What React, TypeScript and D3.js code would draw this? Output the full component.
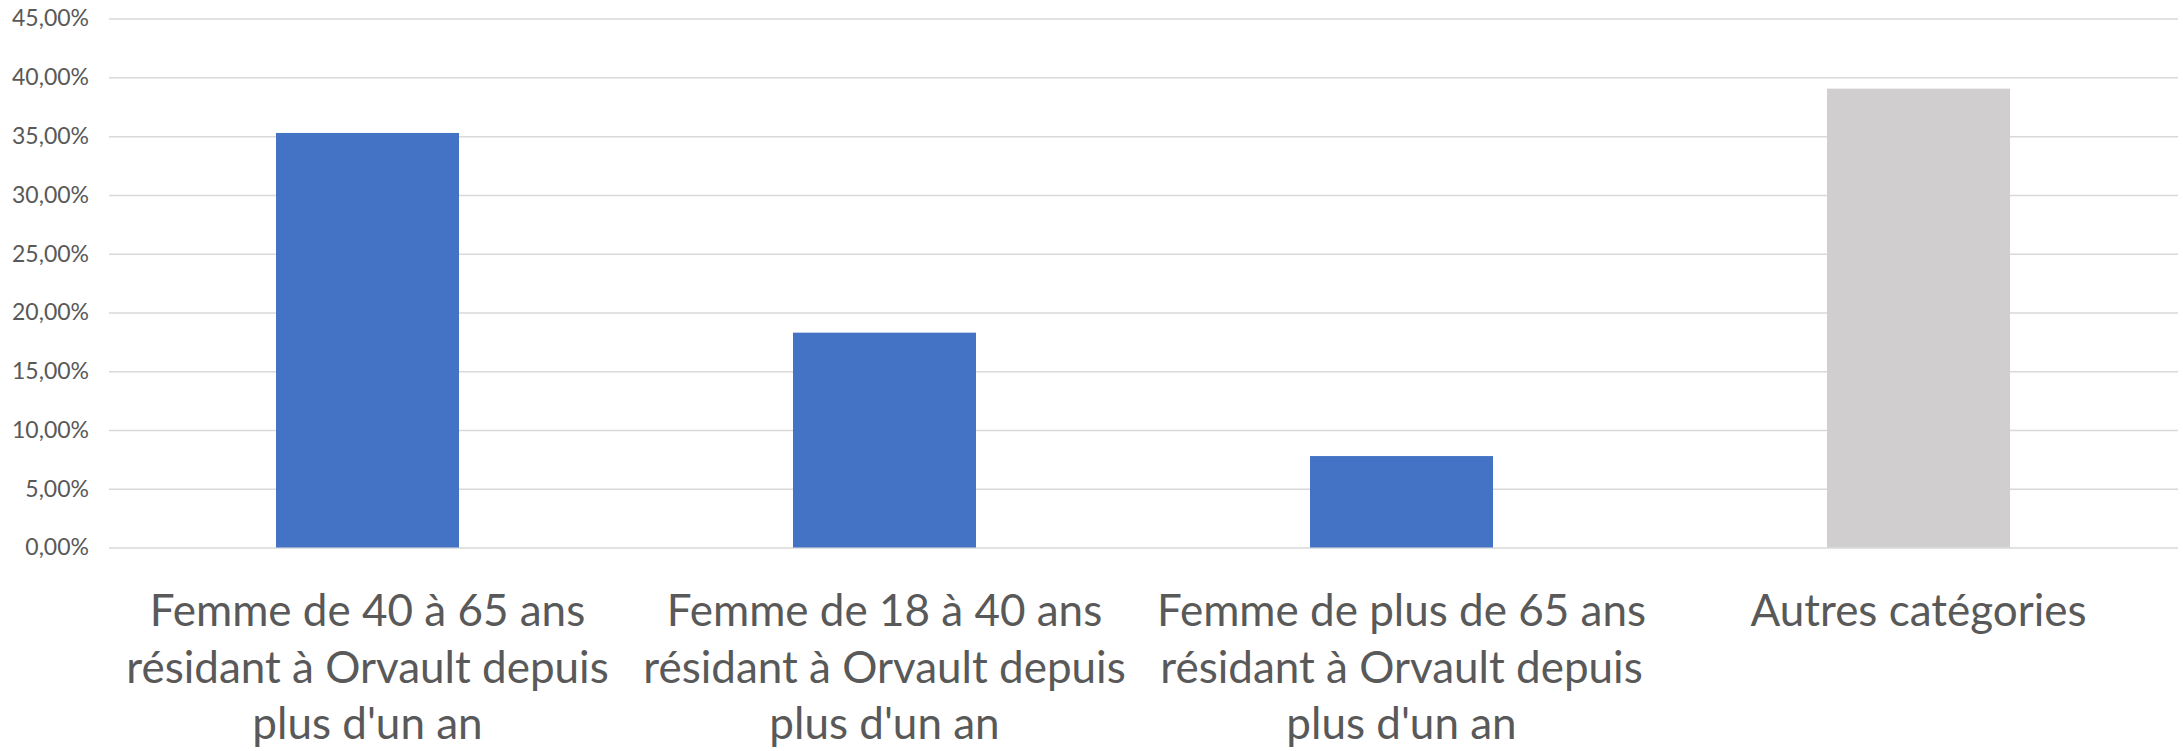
import React, { useRef, useEffect } from "react";
import { select, scaleBand, scaleLinear, axisLeft, formatLocale } from "d3";

const categories = [
  ["Femme de 40 à 65 ans", "résidant à Orvault depuis", "plus d'un an"],
  ["Femme de 18 à 40 ans", "résidant à Orvault depuis", "plus d'un an"],
  ["Femme de plus de 65 ans", "résidant à Orvault depuis", "plus d'un an"],
  ["Autres catégories"],
];
const values = [0.3527, 0.1828, 0.0778, 0.3904];
const barColors = ["#4472C4", "#4472C4", "#4472C4", "#D0CECE"];
const yTicks = [0, 0.05, 0.1, 0.15, 0.2, 0.25, 0.3, 0.35, 0.4, 0.45];

const width = 2183;
const height = 751;
const FONT = "Lato, 'Open Sans', sans-serif";

function App() {
  const svgRef = useRef(null);

  useEffect(() => {
    const svg = select(svgRef.current);
    svg.selectAll("*").remove();

    const fr = formatLocale({
      decimal: ",",
      thousands: " ",
      grouping: [3],
      currency: ["", " €"],
    });

    const xScale = scaleBand()
      .domain(categories.map((c, i) => String(i)))
      .range([109, 2177])
      .paddingInner(0.646)
      .paddingOuter(0.323);
    const yScale = scaleLinear().domain([0, 0.45]).range([547.5, 18.6]);

    // gridlines + tick labels
    const yAxis = axisLeft(yScale)
      .tickValues(yTicks)
      .tickFormat(fr.format(".2%"))
      .tickSize(-(2178 - 109))
      .tickPadding(20);
    const g = svg
      .append("g")
      .attr("transform", "translate(109,0)")
      .call(yAxis);
    g.select(".domain").remove();
    g.selectAll(".tick line").attr("stroke", "#D9D9D9").attr("stroke-width", 1.5);
    g.selectAll(".tick text")
      .attr("fill", "#595959")
      .style("font-family", FONT)
      .style("font-size", "23px");

    // bars
    svg
      .selectAll(".bar")
      .data(values)
      .join("rect")
      .attr("class", "bar")
      .attr("x", (d, i) => xScale(String(i)))
      .attr("y", d => yScale(d))
      .attr("width", xScale.bandwidth())
      .attr("height", d => yScale(0) - yScale(d))
      .attr("fill", (d, i) => barColors[i]);

    // category labels (last line is clipped by the bottom edge, like the original)
    const labels = svg
      .selectAll(".cat")
      .data(categories)
      .join("text")
      .attr("class", "cat")
      .attr("text-anchor", "middle")
      .attr("fill", "#595959")
      .style("font-family", FONT)
      .style("font-size", "44px");
    labels
      .selectAll("tspan")
      .data((d, i) => d.map(line => ({ line, i })))
      .join("tspan")
      .attr("x", d => xScale(String(d.i)) + xScale.bandwidth() / 2)
      .attr("y", (d, j) => 626 + j * 56.5)
      .text(d => d.line);
  }, []);

  return (
    <svg
      ref={svgRef}
      width={width}
      height={height}
      style={{ position: "absolute", left: 0, top: 0, background: "#fff" }}
    />
  );
}

export default App;
